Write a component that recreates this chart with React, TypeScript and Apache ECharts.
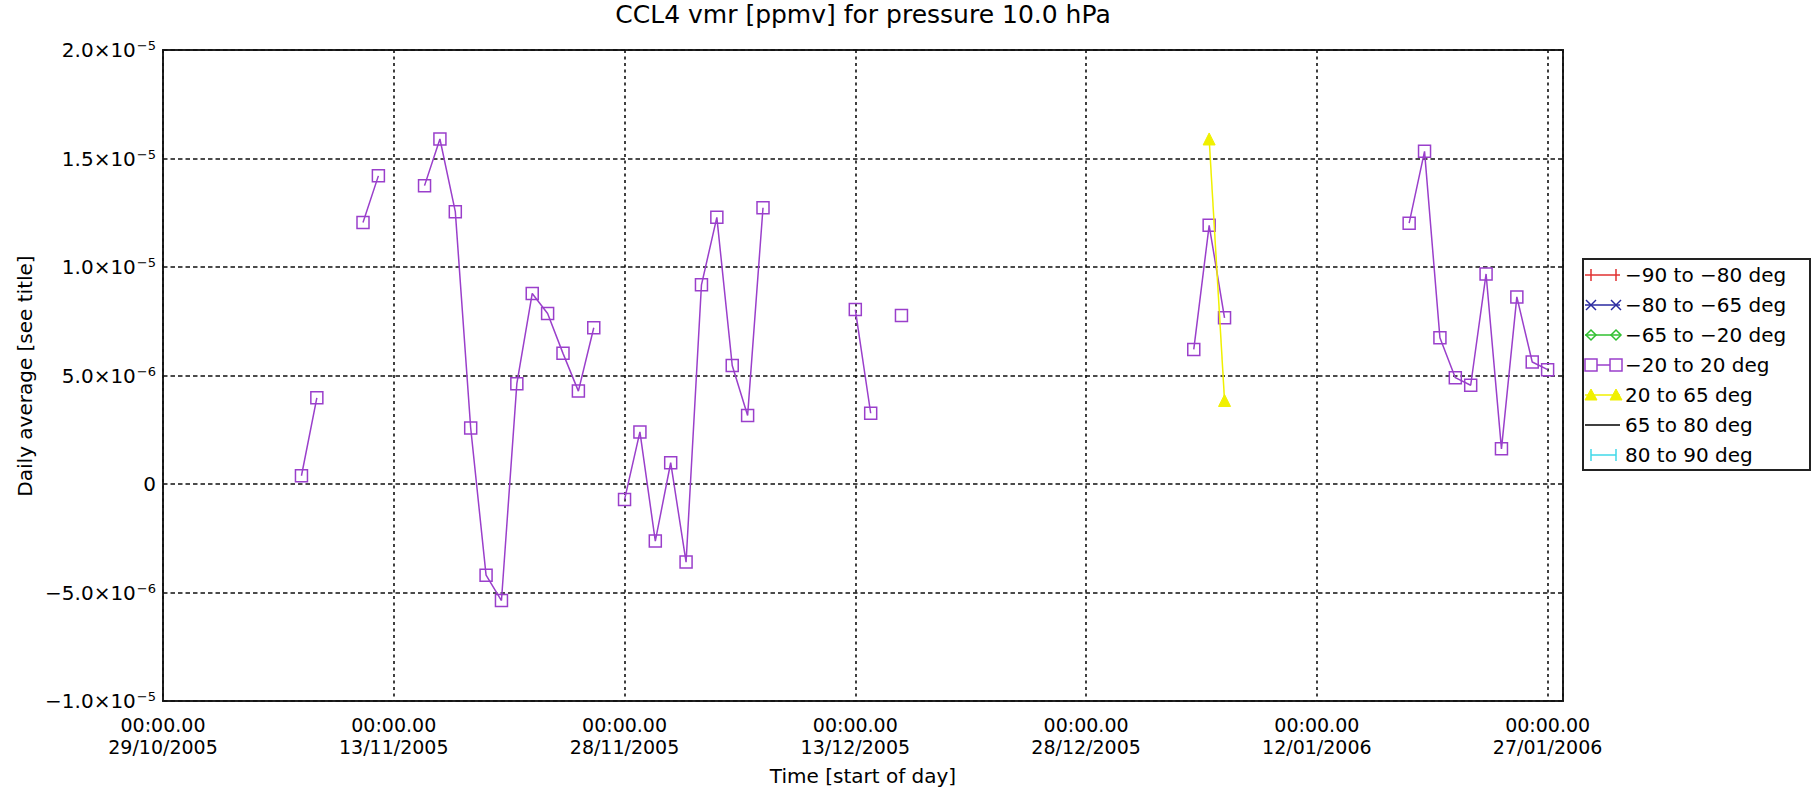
import React, { useEffect, useRef } from 'react';
import * as echarts from 'echarts';

const FONT = '"DejaVu Sans", "Liberation Sans", sans-serif';

const titleText = 'CCL4 vmr [ppmv] for pressure 10.0 hPa';
const xAxisTitle = 'Time [start of day]';
const yAxisTitle = 'Daily average [see title]';

// x axis: days counted from the first tick date
const axisStartDate = '2005-10-29';
const axisEndDate = '2006-01-28';
const xTickStepDays = 15;
const xTickTime = '00:00.00';
const xTickDates = ['29/10/2005', '13/11/2005', '28/11/2005', '13/12/2005', '28/12/2005', '12/01/2006', '27/01/2006'];

// y axis
const yMin = -1.0e-5;
const yMax = 2.0e-5;
const yStep = 5.0e-6;
const yTickValues = [-1.0e-5, -5.0e-6, 0, 5.0e-6, 1.0e-5, 1.5e-5, 2.0e-5];
const yTickMantissas = ['\u22121.0', '\u22125.0', '0', '5.0', '1.0', '1.5', '2.0'];
const yTickExponents = ['\u22125', '\u22126', '', '\u22126', '\u22125', '\u22125', '\u22125'];

// -20 to 20 deg series
const purpleDates = [
  '2005-11-07', '2005-11-08',
  '2005-11-11', '2005-11-12',
  '2005-11-15', '2005-11-16', '2005-11-17', '2005-11-18', '2005-11-19', '2005-11-20',
  '2005-11-21', '2005-11-22', '2005-11-23', '2005-11-24', '2005-11-25', '2005-11-26',
  '2005-11-28', '2005-11-29', '2005-11-30', '2005-12-01', '2005-12-02', '2005-12-03',
  '2005-12-04', '2005-12-05', '2005-12-06', '2005-12-07',
  '2005-12-13', '2005-12-14',
  '2005-12-16',
  '2006-01-04', '2006-01-05', '2006-01-06',
  '2006-01-18', '2006-01-19', '2006-01-20', '2006-01-21', '2006-01-22', '2006-01-23',
  '2006-01-24', '2006-01-25', '2006-01-26', '2006-01-27',
];
const purpleValues = [
  0.38e-6, 3.97e-6,
  12.05e-6, 14.2e-6,
  13.75e-6, 15.9e-6, 12.55e-6, 2.58e-6, -4.2e-6, -5.37e-6,
  4.62e-6, 8.78e-6, 7.86e-6, 6.02e-6, 4.28e-6, 7.2e-6,
  -0.72e-6, 2.4e-6, -2.63e-6, 0.98e-6, -3.6e-6, 9.18e-6,
  12.29e-6, 5.46e-6, 3.16e-6, 12.73e-6,
  8.04e-6, 3.26e-6,
  7.77e-6,
  6.2e-6, 11.92e-6, 7.66e-6,
  12.02e-6, 15.33e-6, 6.74e-6, 4.9e-6, 4.55e-6, 9.68e-6,
  1.62e-6, 8.62e-6, 5.62e-6, 5.27e-6,
];

// 20 to 65 deg series
const yellowDates = ['2006-01-05', '2006-01-06'];
const yellowValues = [1.59e-5, 3.85e-6];

// legend
const legendLabels = [
  '\u221290 to \u221280 deg',
  '\u221280 to \u221265 deg',
  '\u221265 to \u221220 deg',
  '\u221220 to 20 deg',
  '20 to 65 deg',
  '65 to 80 deg',
  '80 to 90 deg',
];
const legendColors = ['#e03030', '#2a2aa0', '#30c030', '#9a3fcb', '#f0f000', '#000000', '#40d8e8'];
const legendSymbols = ['plus', 'cross', 'diamond', 'square', 'triangle', 'none', 'bar'];

const PURPLE = legendColors[3];
const YELLOW = legendColors[4];

const DAY_MS = 86400000;
function toDay(d: string): number {
  return Math.round((Date.parse(d + 'T00:00:00Z') - Date.parse(axisStartDate + 'T00:00:00Z')) / DAY_MS);
}

function buildData(dates: string[], values: number[]) {
  const out: any[] = [];
  for (let i = 0; i < dates.length; i++) {
    const d = toDay(dates[i]);
    if (i > 0 && d - toDay(dates[i - 1]) > 1) out.push([d - 0.5, '-']);
    out.push([d, values[i]]);
  }
  return out;
}

function legendGraphics() {
  const els: any[] = [];
  const boxX = 1583, boxY = 259, boxW = 227, boxH = 211;
  els.push({
    type: 'rect',
    shape: { x: boxX, y: boxY, width: boxW, height: boxH },
    style: { fill: '#ffffff', stroke: '#222', lineWidth: 2 },
    z: 10,
  });
  const mk = [1591, 1616];
  legendLabels.forEach((label, i) => {
    const cy = 275 + 30 * i;
    const c = legendColors[i];
    const sym = legendSymbols[i];
    const x1 = sym === 'bar' ? mk[0] : 1585;
    const x2 = sym === 'bar' ? mk[1] : 1620;
    els.push({ type: 'line', shape: { x1, y1: cy, x2, y2: cy }, style: { stroke: c, lineWidth: 1.5 }, z: 11 });
    mk.forEach((mx) => {
      if (sym === 'plus' || sym === 'bar') {
        els.push({ type: 'line', shape: { x1: mx, y1: cy - 6, x2: mx, y2: cy + 6 }, style: { stroke: c, lineWidth: 1.5 }, z: 11 });
      } else if (sym === 'cross') {
        els.push({ type: 'line', shape: { x1: mx - 5, y1: cy - 5, x2: mx + 5, y2: cy + 5 }, style: { stroke: c, lineWidth: 1.5 }, z: 11 });
        els.push({ type: 'line', shape: { x1: mx - 5, y1: cy + 5, x2: mx + 5, y2: cy - 5 }, style: { stroke: c, lineWidth: 1.5 }, z: 11 });
      } else if (sym === 'diamond') {
        els.push({ type: 'polygon', shape: { points: [[mx, cy - 5], [mx + 5, cy], [mx, cy + 5], [mx - 5, cy]] }, style: { fill: 'none', stroke: c, lineWidth: 1.5 }, z: 11 });
      } else if (sym === 'square') {
        els.push({ type: 'rect', shape: { x: mx - 6, y: cy - 6, width: 12, height: 12 }, style: { fill: '#ffffff', stroke: c, lineWidth: 1.5 }, z: 11 });
      } else if (sym === 'triangle') {
        els.push({ type: 'polygon', shape: { points: [[mx, cy - 6], [mx + 6, cy + 5], [mx - 6, cy + 5]] }, style: { fill: c, stroke: c, lineWidth: 1 }, z: 11 });
      }
    });
    els.push({
      type: 'text',
      x: 1625,
      y: cy,
      z: 12,
      style: { text: label, fontSize: 20, fontFamily: FONT, fill: '#000', align: 'left', verticalAlign: 'middle', textAlign: 'left', textVerticalAlign: 'middle' },
    });
  });
  return els;
}

export default function App() {
  const ref = useRef<HTMLDivElement>(null);
  useEffect(() => {
    if (!ref.current) return;
    const chart = echarts.init(ref.current, undefined, { renderer: 'svg' });
    const xMax = toDay(axisEndDate);
    const option: any = {
      animation: false,
      backgroundColor: '#ffffff',
      title: {
        text: titleText,
        left: 863,
        top: 2,
        padding: 0,
        textAlign: 'center',
        textStyle: { fontSize: 25, fontWeight: 'normal', fontFamily: FONT, color: '#000' },
      },
      grid: {
        left: 163,
        top: 50,
        width: 1400,
        height: 651,
        show: true,
        borderColor: '#222',
        borderWidth: 2,
        backgroundColor: 'transparent',
        containLabel: false,
        outerBoundsMode: 'none',
      },
      xAxis: {
        type: 'value',
        min: 0,
        max: xMax,
        interval: xTickStepDays,
        axisLine: { show: false },
        axisTick: { show: false },
        splitLine: { show: true, lineStyle: { color: '#111', type: [3, 3.5], width: 1.6 } },
        axisLabel: {
          showMaxLabel: false,
          margin: 13,
          fontSize: 19,
          lineHeight: 22,
          fontFamily: FONT,
          color: '#000',
          formatter: (v: number) => {
            const idx = Math.round(v / xTickStepDays);
            if (Math.abs(v - idx * xTickStepDays) > 1e-6 || !xTickDates[idx]) return '';
            return xTickTime + '\n' + xTickDates[idx];
          },
        },
      },
      yAxis: {
        type: 'value',
        min: yMin,
        max: yMax,
        interval: yStep,
        axisLine: { show: false },
        axisTick: { show: false },
        splitLine: { show: true, lineStyle: { color: '#111', type: [4.5, 3], width: 1.6 } },
        axisLabel: {
          margin: 7,
          color: '#000',
          formatter: (v: number) => {
            const idx = yTickValues.findIndex((t) => Math.abs(t - v) < 1e-12);
            if (idx < 0) return '';
            if (!yTickExponents[idx]) return '{m|' + yTickMantissas[idx] + '}';
            return '{m|' + yTickMantissas[idx] + '\u00d710}{e|' + yTickExponents[idx] + '}';
          },
          rich: {
            m: { fontSize: 20, fontFamily: FONT, color: '#000', lineHeight: 22 },
            e: { fontSize: 13, fontFamily: FONT, color: '#000', verticalAlign: 'top', lineHeight: 13, padding: [0, 0, 0, 1] },
          },
        },
      },
      series: [
        {
          name: legendLabels[3],
          type: 'line',
          data: buildData(purpleDates, purpleValues),
          connectNulls: false,
          symbol: 'rect',
          symbolSize: 12,
          showSymbol: true,
          showAllSymbol: true,
          itemStyle: { color: 'rgba(0,0,0,0)', borderColor: PURPLE, borderWidth: 1.5 },
          lineStyle: { color: PURPLE, width: 1.5 },
          emphasis: { disabled: true },
          z: 3,
        },
        {
          name: legendLabels[4],
          type: 'line',
          data: buildData(yellowDates, yellowValues),
          connectNulls: false,
          symbol: 'triangle',
          symbolSize: 12,
          showSymbol: true,
          showAllSymbol: true,
          itemStyle: { color: YELLOW, borderColor: YELLOW, borderWidth: 1 },
          lineStyle: { color: YELLOW, width: 1.5 },
          emphasis: { disabled: true },
          z: 4,
        },
      ],
      graphic: [
        {
          type: 'text',
          x: 863,
          y: 776,
          style: { text: xAxisTitle, fontSize: 20, fontFamily: FONT, fill: '#000', align: 'center', verticalAlign: 'middle', textAlign: 'center', textVerticalAlign: 'middle' },
        },
        {
          type: 'text',
          x: 25,
          y: 376,
          rotation: Math.PI / 2,
          style: { text: yAxisTitle, fontSize: 20, fontFamily: FONT, fill: '#000', align: 'center', verticalAlign: 'middle', textAlign: 'center', textVerticalAlign: 'middle' },
        },
        ...legendGraphics(),
      ],
    };
    chart.setOption(option);
    return () => {
      chart.dispose();
    };
  }, []);
  return (
    <div
      ref={ref}
      style={{ position: 'fixed', left: 0, top: 0, width: 1816, height: 787, background: '#ffffff' }}
    />
  );
}
